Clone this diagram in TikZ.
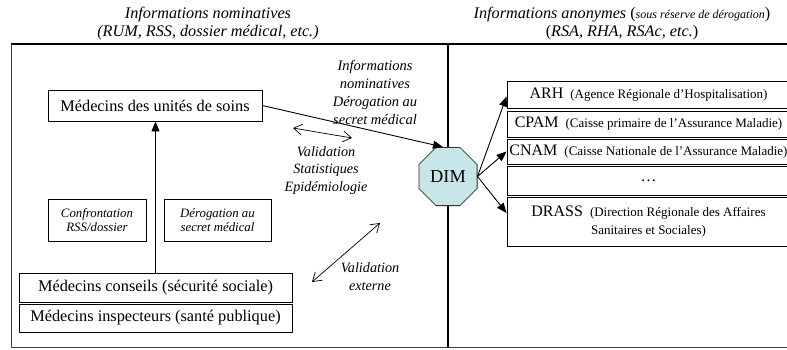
\documentclass[tikz,border=0pt]{standalone}
\usepackage{fontspec}
\setmainfont{Liberation Serif}
\usetikzlibrary{shapes.geometric,arrows.meta}
\definecolor{dimfill}{RGB}{198,230,233}
\newcommand\fmain{\fontsize{16.3}{19}\selectfont}
\newcommand\ftop{\fontsize{16.2}{18}\selectfont\itshape}
\newcommand\fmid{\fontsize{14.5}{18}\selectfont\itshape}
\newcommand\fval{\fontsize{14.2}{17.5}\selectfont\itshape}
\newcommand\fsb{\fontsize{12.8}{14.5}\selectfont\itshape}
\newcommand\fbig{\fontsize{16}{18}\selectfont}
\newcommand\fsm{\fontsize{13}{18}\selectfont}
\newcommand\fdim{\fontsize{18.3}{20}\selectfont}
\begin{document}
\begin{tikzpicture}[x=1pt,y=-1pt,
  box/.style={draw=black,line width=0.9pt,inner sep=0pt,align=center},
  mainbox/.style={box,font=\fmain},
  smallbox/.style={box,font=\fsb},
  rbox/.style={box,font=\fbig,minimum width=283pt},
  lab/.style={align=center,inner sep=0pt},
  solid arrow/.style={line width=0.9pt,-{Triangle[length=10pt,width=8pt]}},
  open arrow/.style={line width=0.7pt,{Straight Barb[length=8.5pt,width=11pt]}-{Straight Barb[length=8.5pt,width=11pt]}},
  frame/.style={line width=1pt,black!75}]
\useasboundingbox (0,0) rectangle (787,349);
% frame
\draw[line width=1.4pt] (11,44) -- (790,44);
\draw[frame] (11,44) -- (11,347) -- (790,347);
\draw[line width=1.4pt] (448,44) -- (448,347);
% header labels
\node[lab,font=\ftop] (hl) at (208,24) {Informations nominatives\\(RUM, RSS, dossier médical, etc.)};
\node[lab,font=\ftop] (hr) at (622,24) {Informations anonymes {\upshape(}{\fontsize{12}{18}\selectfont sous réserve de dérogation}{\upshape)}\\{\upshape(}RSA, RHA, RSAc, etc.{\upshape)}};
% left side
\node[mainbox,minimum width=214pt,minimum height=31pt] (soins) at (155,105.5) {Médecins des unités de soins};
\node[mainbox,minimum width=273pt,minimum height=29pt] (conseils) at (155.5,287.5) {Médecins conseils (sécurité sociale)};
\node[mainbox,minimum width=273pt,minimum height=28pt] (inspect) at (155.5,318) {Médecins inspecteurs (santé publique)};
\node[smallbox,minimum width=98pt,minimum height=42pt] (confr) at (97,220) {Confrontation\\RSS/dossier};
\node[smallbox,minimum width=107pt,minimum height=42pt] (derog) at (217.5,220) {Dérogation au\\secret médical};
\draw[solid arrow] (conseils.north) -- (conseils.north |- soins.south);
% middle labels
\node[lab,font=\fmid] (nomin) at (375,92) {Informations\\nominatives\\Dérogation au\\secret médical};
\node[lab,font=\fval] (valid) at (326,170.5) {Validation\\Statistiques\\Epidémiologie};
\node[lab,font=\fval] (valext) at (370,276.5) {Validation\\externe};
\coordinate (v1a) at (293,128);
\coordinate (v1b) at (352,138);
\coordinate (v2a) at (312,282);
\coordinate (v2b) at (380,223);
\draw[open arrow] (v1a) -- (v1b);
\draw[open arrow] (v2a) -- (v2b);
% DIM
\node[draw=black!80,line width=0.8pt,fill=dimfill,regular polygon,regular polygon sides=8,minimum size=63pt,inner sep=0pt,font=\fdim] (dim) at (448,176.5) {DIM};
\draw[solid arrow] (soins.east) -- ([xshift=-5pt]dim.north);
% right boxes
\node[rbox,minimum height=27pt] (arh) at (648.5,94.5) {ARH\hspace{7pt}{\fsm(Agence Régionale d’Hospitalisation)}};
\node[rbox,minimum height=26pt] (cpam) at (648.5,124) {CPAM\hspace{7pt}{\fsm(Caisse primaire de l’Assurance Maladie)}};
\node[rbox,minimum height=25pt] (cnam) at (648.5,151.5) {CNAM\hspace{7pt}{\fsm(Caisse Nationale de l’Assurance Maladie)}};
\node[rbox,minimum height=29pt] (dots) at (648.5,180.5) {\dots};
\node[rbox,minimum height=49pt] (drass) at (648.5,221.5) {DRASS\hspace{7pt}{\fsm(Direction Régionale des Affaires}\\{\fsm Sanitaires et Sociales)}};
\draw[solid arrow] (dim.east) -- ([yshift=-2pt]arh.west);
\draw[solid arrow] (dim.east) -- (cnam.west);
\draw[solid arrow] (dim.east) -- ([yshift=8.5pt]drass.west);
\end{tikzpicture}
\end{document}
